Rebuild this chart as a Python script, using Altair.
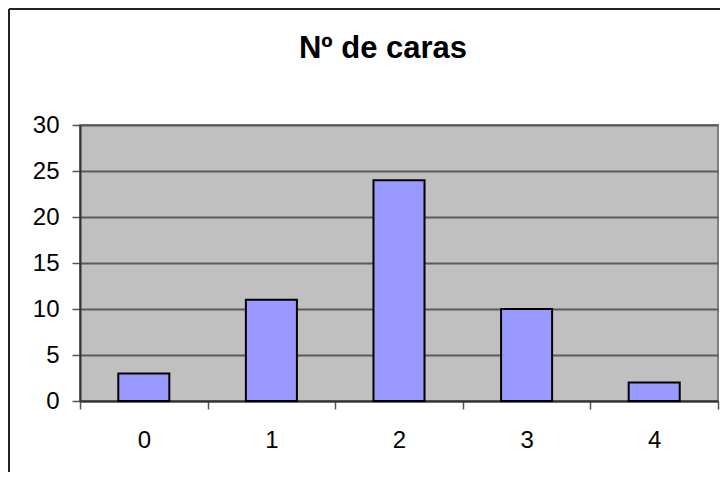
import altair as alt
import pandas as pd

categories = ["0", "1", "2", "3", "4"]
counts = [3, 11, 24, 10, 2]
y_ticks = [0, 5, 10, 15, 20, 25, 30]
title_text = "Nº de caras"

df = pd.DataFrame({"cat": categories, "n": counts})

W, H = 638, 276
FONT = "Liberation Sans"

base = alt.Chart(df)

bars = base.mark_bar(
    fill="#9999FF", stroke="#000000", strokeWidth=2, width=alt.RelativeBandSize(0.4)
).encode(
    x=alt.X(
        "cat:N",
        sort=categories,
        scale=alt.Scale(paddingInner=0, paddingOuter=0),
        axis=alt.Axis(
            title=None, labelAngle=0, tickBand="extent", tickSize=8,
            labelPadding=19, labelFontSize=24, labelFont=FONT, labelColor="#000000",
            domainColor="#333333", domainWidth=2, tickColor="#555555", tickWidth=1.5,
            grid=False,
        ),
    ),
    y=alt.Y(
        "n:Q",
        scale=alt.Scale(domain=[0, 30], nice=False),
        axis=alt.Axis(
            title=None, values=y_ticks, tickSize=8, labelPadding=13,
            labelFontSize=24, labelFont=FONT, labelColor="#000000",
            domainColor="#333333", domainWidth=2, tickColor="#555555", tickWidth=1.5,
            grid=True, gridColor="#5a5a5a", gridWidth=2,
        ),
    ),
)

frame_data = alt.Data(values=[{"t": title_text}])
left_border = alt.Chart(frame_data).mark_rule(color="#222222", strokeWidth=2).encode(
    x=alt.value(-71), y=alt.value(-116), y2=alt.value(H + 90)
)
top_border = alt.Chart(frame_data).mark_rule(color="#222222", strokeWidth=2).encode(
    x=alt.value(-71), x2=alt.value(W + 10), y=alt.value(-116)
)
title = alt.Chart(frame_data).mark_text(
    font=FONT, fontSize=31, fontWeight="bold", color="#000000",
    align="center", baseline="alphabetic",
).encode(
    text="t:N", x=alt.value(W / 2 - 16), y=alt.value(-67)
)

chart = alt.layer(bars, left_border, top_border, title).properties(
    width=W,
    height=H,
    autosize=alt.AutoSizeParams(type="none"),
    padding={"left": 72, "top": 117, "right": 2, "bottom": 71},
    background="#ffffff",
).configure_view(
    fill="#C0C0C0", stroke="#808080", strokeWidth=2
)

chart.save("out.html", embed_options={"renderer": "svg", "actions": False})
